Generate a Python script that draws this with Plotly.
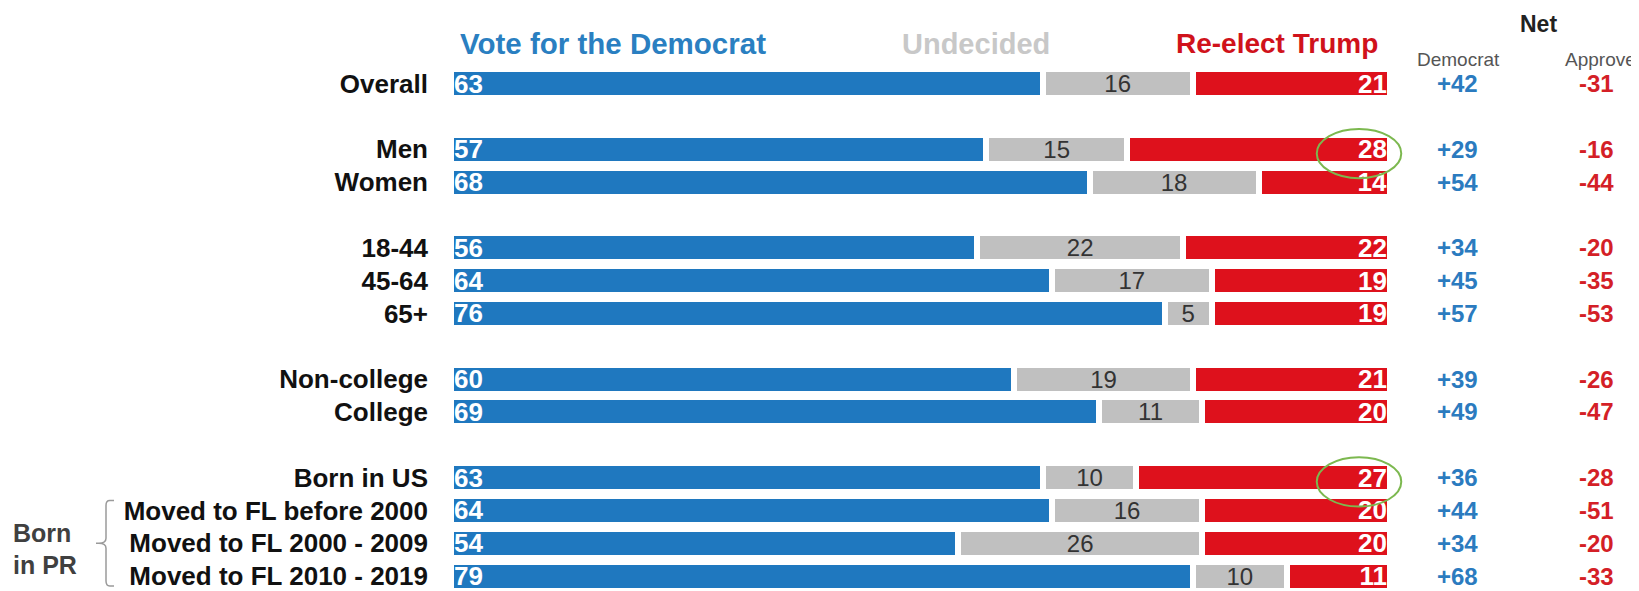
import plotly.graph_objects as go

# ---------------- data ----------------
groups = [
    ["Overall"],
    ["Men", "Women"],
    ["18-44", "45-64", "65+"],
    ["Non-college", "College"],
    ["Born in US", "Moved to FL before 2000", "Moved to FL 2000 - 2009", "Moved to FL 2010 - 2019"],
]
vote_democrat = [63, 57, 68, 56, 64, 76, 60, 69, 63, 64, 54, 79]
undecided     = [16, 15, 18, 22, 17, 5, 19, 11, 10, 16, 26, 10]
reelect_trump = [21, 28, 14, 22, 19, 19, 21, 20, 27, 20, 20, 11]
net_democrat  = [42, 29, 54, 34, 45, 57, 39, 49, 36, 44, 34, 68]
net_approve   = [-31, -16, -44, -20, -35, -53, -26, -47, -28, -51, -20, -33]
circled_rows  = ["Men", "Born in US"]

series_names = ["Vote for the Democrat", "Undecided", "Re-elect Trump"]

# ---------------- layout helpers (page pixel -> figure coords) ----------------
OFF = 8                      # browser body margin
W, H = 1639 - OFF, 591 - OFF
PLOT_L, PLOT_R = 451, 1390   # page pixels of x=0 and x=100
ML, MR, MT, MB = PLOT_L - OFF, (1639 - OFF) - (PLOT_R - OFF), 0, 0
PX_PER_ROW = 33.0
FIRST_ROW_PY = 84            # page pixel of first row centre
Y_TOP = -(FIRST_ROW_PY - OFF) / PX_PER_ROW
Y_BOT = Y_TOP + H / PX_PER_ROW

def px_x(px):
    return (px - PLOT_L) / (PLOT_R - PLOT_L)

def px_y(py):
    return Y_TOP + (py - OFF) / PX_PER_ROW

labels, pos = [], []
slot = 0
for g in groups:
    for lab in g:
        labels.append(lab)
        pos.append(slot)
        slot += 1
    slot += 1

FONT = "Liberation Sans, Arial, sans-serif"
BLUE = "#1f78bf"
GRAY = "#c0c0c0"
RED = "#de111c"

fig = go.Figure()
common = dict(orientation="h", y=pos, width=0.88, textposition="inside", textangle=0,
              constraintext="none", cliponaxis=False, hoverinfo="skip",
              marker_line=dict(color="white", width=6))
fig.add_trace(go.Bar(x=vote_democrat, name=series_names[0], marker_color=BLUE,
                     text=vote_democrat, insidetextanchor="start",
                     textfont=dict(color="white", size=26, family=FONT, weight="bold"), **common))
fig.add_trace(go.Bar(x=undecided, name=series_names[1], marker_color=GRAY,
                     text=undecided, insidetextanchor="middle",
                     textfont=dict(color="#333333", size=24, family=FONT), **common))
fig.add_trace(go.Bar(x=reelect_trump, name=series_names[2], marker_color=RED,
                     text=reelect_trump, insidetextanchor="end",
                     textfont=dict(color="white", size=26, family=FONT, weight="bold"), **common))

annotations = []
# Column headers
annotations.append(dict(text="<b>" + series_names[0] + "</b>", x=px_x(458), xanchor="left",
                        y=px_y(44), font=dict(size=29.5, color="#2a7fc1")))
annotations.append(dict(text="<b>" + series_names[1] + "</b>", x=px_x(976), xanchor="center",
                        y=px_y(44), font=dict(size=29, color="#c8c8c8")))
annotations.append(dict(text="<b>" + series_names[2] + "</b>", x=px_x(1380), xanchor="right",
                        y=px_y(44), font=dict(size=28, color="#d0121b")))
annotations.append(dict(text="<b>Net</b>", x=px_x(1538), xanchor="center",
                        y=px_y(24), font=dict(size=23, color="#222222")))
annotations.append(dict(text="Democrat", x=px_x(1458), xanchor="center",
                        y=px_y(60), font=dict(size=19, color="#555555")))
annotations.append(dict(text="Approve", x=px_x(1638), xanchor="right",
                        y=px_y(60), font=dict(size=19, color="#555555")))
for p, d, a in zip(pos, net_democrat, net_approve):
    annotations.append(dict(text="<b>%+d</b>" % d, x=px_x(1457), xanchor="center", y=p,
                            font=dict(size=24, color="#2b7bbf")))
    annotations.append(dict(text="<b>%d</b>" % a, x=px_x(1596), xanchor="center", y=p,
                            font=dict(size=24, color="#d41f27")))
# Born in PR label
annotations.append(dict(text="<b>Born</b>", x=px_x(11), xanchor="left",
                        y=px_y(536), font=dict(size=25, color="#404040")))
annotations.append(dict(text="<b>in PR</b>", x=px_x(11), xanchor="left",
                        y=px_y(568), font=dict(size=25, color="#404040")))
for a in annotations:
    a.update(xref="paper", yref="y", showarrow=False)
    a["font"].setdefault("family", FONT)

shapes = []
# bracket
bx = px_x(106)
bx_r = px_x(114)
bx_l = px_x(96)
y_top, y_mid, y_bot = px_y(503), px_y(546), px_y(589)
c = 0.15
path = (f"M {bx_r},{y_top} L {bx + 0.004},{y_top} Q {bx},{y_top} {bx},{y_top + c} "
        f"L {bx},{y_mid - c} Q {bx},{y_mid} {bx_l + 0.003},{y_mid} L {bx_l},{y_mid} "
        f"M {bx_l + 0.003},{y_mid} Q {bx},{y_mid} {bx},{y_mid + c} "
        f"L {bx},{y_bot - c} Q {bx},{y_bot} {bx + 0.004},{y_bot} L {bx_r},{y_bot}")
shapes.append(dict(type="path", path=path, xref="paper", yref="y",
                   line=dict(color="#9a9a9a", width=1.5)))
# green circles (x in paper units of the 0-100 axis so they are not clipped)
for lab in circled_rows:
    p = pos[labels.index(lab)]
    shapes.append(dict(type="circle", xref="paper", yref="y", x0=0.922, x1=1.012,
                       y0=p - 0.62, y1=p + 0.88, line=dict(color="#7cb84f", width=2)))

fig.update_layout(
    width=W, height=H, barmode="stack", showlegend=False,
    plot_bgcolor="white", paper_bgcolor="white",
    margin=dict(l=ML, r=MR, t=MT, b=MB, pad=0),
    font=dict(family=FONT),
    annotations=annotations, shapes=shapes,
    xaxis=dict(range=[0, 100], visible=False, fixedrange=True),
    yaxis=dict(range=[Y_BOT, Y_TOP], tickvals=pos, ticktext=["<b>%s</b>" % l for l in labels],
               tickfont=dict(size=26, color="#111111", family=FONT),
               showgrid=False, zeroline=False, showline=False, ticks="",
               ticklabelstandoff=22, ticklabeloverflow="allow", fixedrange=True),
)

fig.write_html("out.html")
